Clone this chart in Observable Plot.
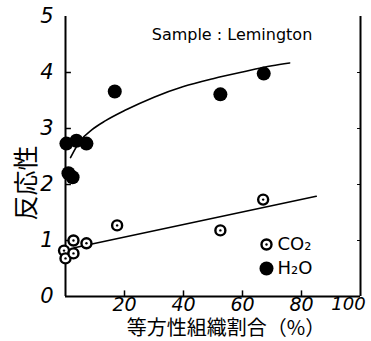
<!DOCTYPE html>
<html><head><meta charset="utf-8">
<script src="https://cdn.jsdelivr.net/npm/d3@7"></script>
<script src="https://cdn.jsdelivr.net/npm/@observablehq/plot@0.6"></script>
<style>body{margin:0;background:#fff}svg{background:#fff}</style>
</head><body><div id="chart"></div>
<script>
const h2oX = [0.3, 3.7, 7.1, 1.0, 2.4, 16.7, 52.5, 67.2];
const h2oY = [2.73, 2.78, 2.73, 2.2, 2.13, 3.66, 3.61, 3.98];
const co2X = [-0.5, 0.0, 2.7, 2.7, 7.1, 17.5, 52.5, 67.0];
const co2Y = [0.82, 0.68, 0.77, 1.0, 0.95, 1.27, 1.18, 1.73];
const h2oFitX = [1.7, 5, 9, 13.6, 20, 30, 40, 50, 60, 70, 76];
const h2oFitY = [2.48, 2.78, 2.98, 3.14, 3.32, 3.56, 3.75, 3.89, 4.01, 4.12, 4.17];
const co2FitX = [3, 85];
const co2FitY = [0.87, 1.79];
const xTicks = [20, 40, 60, 80];
const xTickLast = [100];
const yTicks = [0, 1, 2, 3, 4, 5];
const innerTicksY = [1, 2, 3, 4];
const innerTicksX = [20, 40, 60, 80];
const title = "Sample : Lemington";
const xLabel = "等方性組織割合（%）";
const yLabel = "反応性";
const legendNames = ["CO₂", "H₂O"];

const h2o = h2oX.map((x, i) => ({x, y: h2oY[i]}));
const co2 = co2X.map((x, i) => ({x, y: co2Y[i]}));
const h2oFit = h2oFitX.map((x, i) => ({x, y: h2oFitY[i]}));
const co2Fit = co2FitX.map((x, i) => ({x, y: co2FitY[i]}));

const numFont = {fontFamily: "DejaVu Sans", fontSize: 19, fontStyle: "italic"};
const cjk = "Noto Sans CJK JP";

const chart = Plot.plot({
  width: 371, height: 341,
  marginLeft: 65, marginRight: 11, marginTop: 16, marginBottom: 45,
  x: {domain: [0, 100]},
  y: {domain: [0, 5]},
  style: {background: "#fff", color: "#000"},
  marks: [
    Plot.ruleX([0], {y1: 0, y2: 5, stroke: "#000", strokeWidth: 2}),
    Plot.ruleX([100], {y1: 0, y2: 5, stroke: "#000", strokeWidth: 2}),
    Plot.ruleY([0], {x1: 0, x2: 100, stroke: "#000", strokeWidth: 2}),
    Plot.ruleY(innerTicksY, {x1: 0, x2: 2, stroke: "#000", strokeWidth: 1.5}),
    Plot.ruleY(innerTicksY, {x1: 99, x2: 100, stroke: "#000", strokeWidth: 1}),
    Plot.ruleX(innerTicksX, {y1: 0, y2: 0.1, stroke: "#000", strokeWidth: 1.5}),
    Plot.axisY({ticks: yTicks, tickFormat: "d", tickSize: 0, tickPadding: 12, ...numFont, fontSize: 21, label: null}),
    Plot.axisX({ticks: xTicks, tickFormat: "d", tickSize: 0, tickPadding: 1, ...numFont, label: null}),
    Plot.axisX({ticks: xTickLast, tickFormat: "d", tickSize: 0, tickPadding: 1, dx: -12, ...numFont, fontSize: 18, label: null}),
    Plot.line(h2oFit, {x: "x", y: "y", curve: "monotone-x", stroke: "#000", strokeWidth: 1.6}),
    Plot.line(co2Fit, {x: "x", y: "y", stroke: "#000", strokeWidth: 1.6}),
    Plot.dot(h2o, {x: "x", y: "y", r: 7, fill: "#000", stroke: "none"}),
    Plot.dot(co2, {x: "x", y: "y", r: 5, fill: "#fff", stroke: "#000", strokeWidth: 2.4}),
    Plot.dot(co2, {x: "x", y: "y", r: 1.2, fill: "#000", stroke: "none"}),
    Plot.text([title], {frameAnchor: "top", dx: 19, dy: 12, fontFamily: "DejaVu Sans", fontSize: 16, fill: "#000"}),
    Plot.dot([legendNames[0]], {frameAnchor: "bottom-right", dx: -94, dy: -52, r: 5, fill: "#fff", stroke: "#000", strokeWidth: 2.4}),
    Plot.dot([legendNames[0]], {frameAnchor: "bottom-right", dx: -94, dy: -52, r: 1.2, fill: "#000", stroke: "none"}),
    Plot.dot([legendNames[1]], {frameAnchor: "bottom-right", dx: -94, dy: -28, r: 7, fill: "#000"}),
    Plot.text([legendNames[0]], {frameAnchor: "bottom-right", dx: -83, dy: -52, text: d => d, textAnchor: "start", lineAnchor: "middle", fontFamily: "DejaVu Sans", fontSize: 18, fill: "#000"}),
    Plot.text([legendNames[1]], {frameAnchor: "bottom-right", dx: -83, dy: -28, text: d => d, textAnchor: "start", lineAnchor: "middle", fontFamily: "DejaVu Sans", fontSize: 18, fill: "#000"}),
    Plot.text([xLabel], {frameAnchor: "bottom", dx: 13, dy: 32, text: d => d, lineAnchor: "middle", fontFamily: cjk, fontSize: 20, fill: "#000"}),
    Plot.text([yLabel], {frameAnchor: "left", dx: -39, dy: 64, text: d => d, rotate: -90, lineAnchor: "middle", fontFamily: cjk, fontSize: 25, fill: "#000"})
  ]
});
document.getElementById("chart").appendChild(chart);
</script>
</body></html>
